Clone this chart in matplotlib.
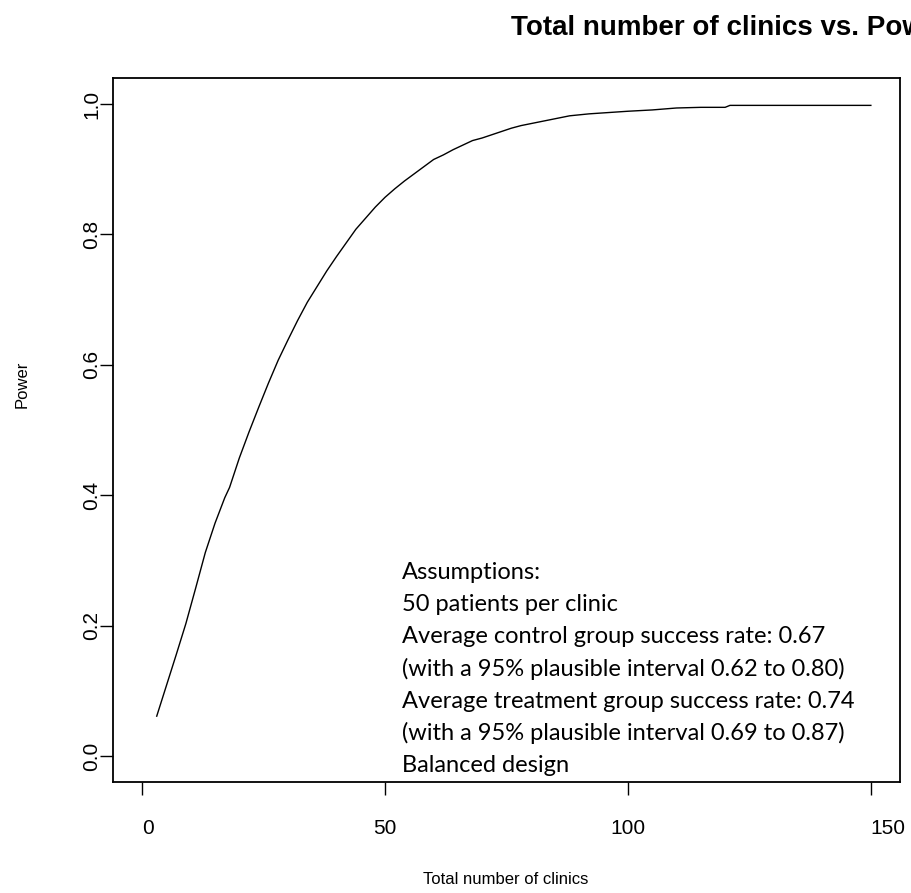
import matplotlib
matplotlib.use("Agg")
import matplotlib.pyplot as plt

# simulated power by total number of clinics
clinics = [3, 5, 7, 9, 11, 13, 15, 17, 18, 20, 22, 24, 26, 28, 30, 32, 34, 36, 38, 40,
           42, 44, 46, 48, 50, 52, 54, 56, 58, 60, 62, 64, 66, 68, 70, 72, 74, 76, 78, 80,
           84, 88, 92, 96, 100, 105, 110, 115, 120, 121, 130, 140, 150]
power = [0.061, 0.108, 0.155, 0.203, 0.257, 0.312, 0.357, 0.396, 0.412, 0.457,
         0.497, 0.535, 0.572, 0.607, 0.638, 0.668, 0.696, 0.720, 0.744, 0.766,
         0.787, 0.808, 0.825, 0.842, 0.857, 0.870, 0.882, 0.893, 0.904, 0.915,
         0.922, 0.930, 0.937, 0.944, 0.948, 0.953, 0.958, 0.963, 0.967, 0.970,
         0.976, 0.982, 0.985, 0.987, 0.989, 0.991, 0.994, 0.995, 0.995, 0.998,
         0.998, 0.998, 0.998]

xticks = [0, 50, 100, 150]
yticks = [0.0, 0.2, 0.4, 0.6, 0.8, 1.0]

assumptions = [
    "Assumptions:",
    "50 patients per clinic",
    "Average control group success rate: 0.67",
    "(with a 95% plausible interval 0.62 to 0.80)",
    "Average treatment group success rate: 0.74",
    "(with a 95% plausible interval 0.69 to 0.87)",
    "Balanced design",
]

plt.rcParams['font.family'] = ['Liberation Sans', 'DejaVu Sans']

W, H = 912, 893
fig = plt.figure(figsize=(W / 100, H / 100), dpi=100)
L, R, T, B = 113, 900, 78, 782
ax = fig.add_axes([L / W, 1 - B / H, (R - L) / W, (B - T) / H])

ax.plot(clinics, power, color='black', lw=1.0)
ax.set_xlim(-6, 156)
ax.set_ylim(-0.04, 1.04)

ax.set_xticks(xticks)
ax.set_xticklabels([str(v) for v in xticks])
ax.set_yticks(yticks)
ax.set_yticklabels([f"{v:.1f}" for v in yticks], rotation=90, va='center')
ax.tick_params(direction='out', length=9.4, width=1.0, labelsize=15, colors='black')
ax.tick_params(axis='x', pad=17)
ax.tick_params(axis='y', pad=-1)
# end labels sit to the right of their ticks in the original
xl = ax.get_xticklabels()
xl[0].set_ha('left')
xl[-1].set_ha('left')
for s in ax.spines.values():
    s.set_linewidth(1.3)

fig.text(22 / W, 1 - 384 / H, "Power", rotation=90, ha='center', va='center', fontsize=12)
fig.text(506 / W, 1 - 880 / H, "Total number of clinics", ha='center', va='center', fontsize=12)
# title runs off the right edge, as in the original
fig.text(511 / W, 1 - 28 / H, "Total number of clinics vs. Power", ha='left', va='center',
         fontsize=20, fontweight='bold')

for i, line in enumerate(assumptions):
    yb = 579 + 32.2 * i
    ax.text((402 - L) / (R - L), (B - yb) / (B - T), line, transform=ax.transAxes,
            ha='left', va='baseline', fontsize=17, family=['Lato', 'DejaVu Sans'])

fig.savefig("out.png", dpi=100)
